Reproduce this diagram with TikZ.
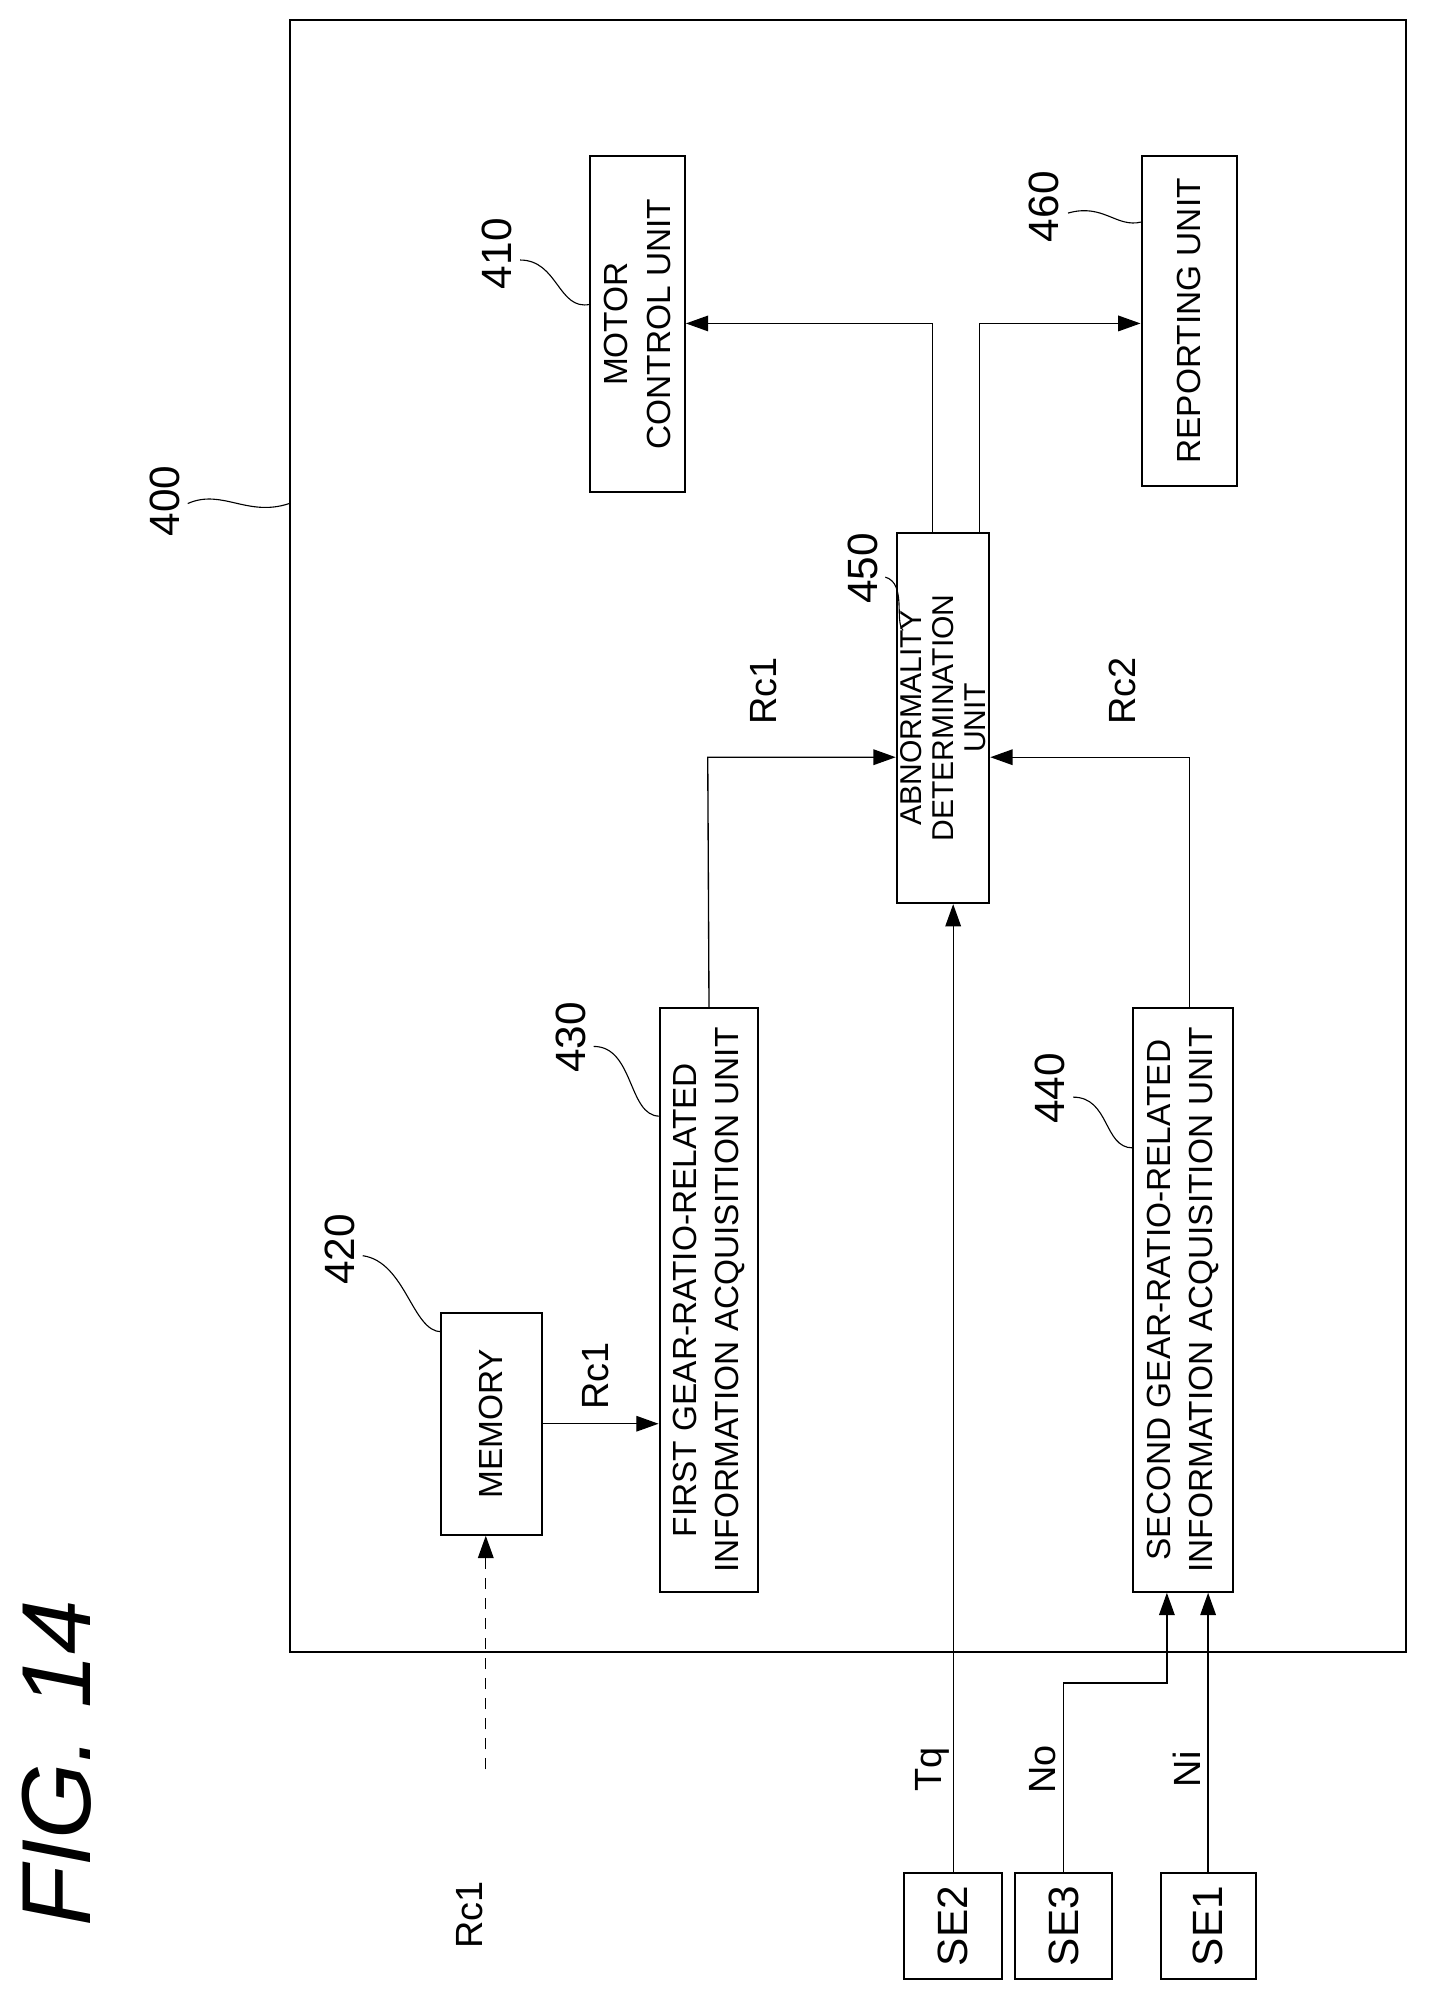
\documentclass[tikz,border=0pt]{standalone}
\usepackage{fontspec}
\setmainfont{Liberation Sans}
\usetikzlibrary{arrows.meta}
\begin{document}
\begin{tikzpicture}[x=0.02cm,y=-0.02cm,
  box/.style={draw,line width=0.9pt,inner sep=0pt,align=center,font=\fontsize{15}{18}\selectfont},
  lbl/.style={rotate=90,font=\fontsize{17}{20}\selectfont},
  ref/.style={rotate=90,font=\fontsize{19}{22}\selectfont},
  arr/.style={-{Triangle[length=10pt,width=7pt]},line width=0.6pt},
  lead/.style={line width=0.5pt}]
\useasboundingbox (0,0) rectangle (1130,1580);
\node[draw,line width=0.9pt,minimum width=880*0.02cm,minimum height=1287*0.02cm,anchor=north west] (outer) at (228,15) {};
\node[box,minimum width=75*0.02cm,minimum height=265*0.02cm] (mcu) at (502.5,255.5) {};
\node[rotate=90,align=center,font=\fontsize{15}{19}\selectfont] at (mcu.center) {MOTOR\\CONTROL UNIT};
\node[box,minimum width=75*0.02cm,minimum height=260*0.02cm] (rep) at (937.5,253) {};
\node[rotate=90,font=\fontsize{15}{19}\selectfont] at (rep.center) {REPORTING UNIT};
\node[box,minimum width=73*0.02cm,minimum height=292*0.02cm] (abn) at (743.5,566) {};
\node[rotate=90,align=center,font=\fontsize{13.5}{14.5}\selectfont] at (abn.center) {ABNORMALITY\\DETERMINATION\\UNIT};
\node[box,minimum width=78*0.02cm,minimum height=460*0.02cm] (fg) at (559,1025) {};
\node[rotate=90,align=center,font=\fontsize{15}{19}\selectfont] at (fg.center) {FIRST GEAR-RATIO-RELATED\\INFORMATION ACQUISITION UNIT};
\node[box,minimum width=79*0.02cm,minimum height=460*0.02cm] (sg) at (932.5,1025) {};
\node[rotate=90,align=center,font=\fontsize{15}{19}\selectfont] at (sg.center) {SECOND GEAR-RATIO-RELATED\\INFORMATION ACQUISITION UNIT};
\node[box,minimum width=79*0.02cm,minimum height=175*0.02cm] (mem) at (387.5,1122.5) {};
\node[rotate=90,font=\fontsize{15}{19}\selectfont] at (mem.center) {MEMORY};
\node[box,minimum width=77*0.02cm,minimum height=83*0.02cm] (se2) at (751.5,1518.5) {};
\node[rotate=90,font=\fontsize{19}{22}\selectfont] at (se2.center) {SE2};
\node[box,minimum width=77*0.02cm,minimum height=83*0.02cm] (se3) at (838.5,1518.5) {};
\node[rotate=90,font=\fontsize{19}{22}\selectfont] at (se3.center) {SE3};
\node[box,minimum width=75*0.02cm,minimum height=83*0.02cm] (se1) at (952.5,1518.5) {};
\node[rotate=90,font=\fontsize{19}{22}\selectfont] at (se1.center) {SE1};
% reference numerals
\node[ref] (n400) at (130,395) {400};
\draw[lead] (148,397) .. controls (175,385) and (195,408) .. (228,397);
\node[ref] (n410) at (392,200) {410};
\draw[lead] (410,205) .. controls (440,205) and (440,245) .. (465,240);
\node[ref] (n460) at (823,163) {460};
\draw[lead] (842,168) .. controls (870,160) and (880,180) .. (900,175);
\node[ref] (n450) at (680,448) {450};
\draw[lead] (698,455) .. controls (715,460) and (705,490) .. (712,497);
\node[ref] (n430) at (450,818) {430};
\draw[lead] (468,825) .. controls (500,825) and (495,880) .. (520,880);
\node[ref] (n440) at (828,858) {440};
\draw[lead] (846,865) .. controls (875,865) and (870,905) .. (893,905);
\node[ref] (n420) at (268,985) {420};
\draw[lead] (286,990) .. controls (320,995) and (325,1050) .. (348,1050);
% connectors
\draw[arr] (abn.north -| 735,0) -- (735,255) -- (mcu.east |- 0,255);
\draw[arr] (abn.north -| 772,0) -- (772,255) -- (rep.west |- 0,255);
\draw[arr] (fg.north) -- (558,597) -- (abn.west |- 0,597);
\draw[arr] (sg.north -| 938,0) -- (938,597) -- (abn.east |- 0,597);
\node[lbl] at (602,545) {Rc1};
\node[lbl] at (885,545) {Rc2};
\draw[arr] (se2.north) -- (abn.south -| se2.north);
\draw[arr] (mem.east) -- (fg.west |- mem.east);
\node[lbl] at (470,1085) {Rc1};
\coordinate (rcin) at (383,1395);
\draw[arr,dashed,dash pattern=on 5pt off 4pt] (rcin) -- (mem.south -| rcin);
\node[lbl] at (370,1510) {Rc1};
\draw[arr] (se3.north) -- (838.5,1327) -- (920,1327) -- (sg.south -| 920,0);
\draw[arr] (se1.north) -- (sg.south -| se1.north);
\node[lbl] at (735,1395) {Tq};
\node[lbl] at (822,1395) {No};
\node[lbl] at (936,1395) {Ni};
\node[rotate=90,font=\fontsize{44}{50}\selectfont\itshape] at (45,1390) {FIG. 14};
\end{tikzpicture}
\end{document}
